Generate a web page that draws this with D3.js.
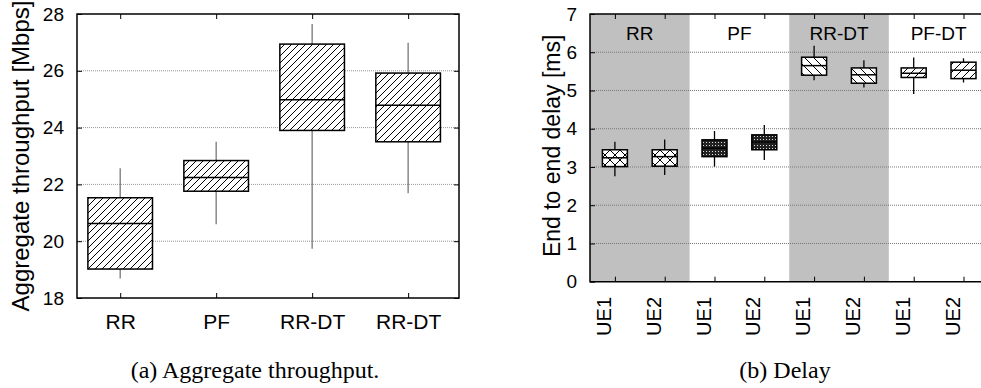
<!DOCTYPE html>
<html lang="en">
<head>
    <meta charset="UTF-8">
    <script src="https://d3js.org/d3.v7.min.js"></script>
    <title>Throughput and delay box plots</title>
    <style>
        html, body {
            margin: 0px;
            padding: 0px;
            background-color: #ffffff;
        }
        svg text {
            font-family: "Liberation Sans", Arial, sans-serif;
            fill: #000;
        }
        svg text.caption {
            font-family: "Liberation Serif", "Times New Roman", serif;
        }
    </style>
</head>
<body>
    <div id="chart"></div>
    <script>

        // (a) aggregate throughput, [whisker low, q1, median, q3, whisker high]
        let throughput_labels = ['RR', 'PF', 'RR-DT', 'RR-DT'];
        let throughput_stats = [
            [18.69, 19.02, 20.62, 21.53, 22.57],
            [20.60, 21.76, 22.24, 22.84, 23.50],
            [19.73, 23.90, 24.98, 26.94, 27.65],
            [21.69, 23.50, 24.79, 25.92, 26.99]
        ];
        let throughput_ticks = [18, 20, 22, 24, 26, 28];

        // (b) delay per scheduler, two UEs each
        let delay_groups = ['RR', 'PF', 'RR-DT', 'PF-DT'];
        let delay_labels = ['UE1', 'UE2', 'UE1', 'UE2', 'UE1', 'UE2', 'UE1', 'UE2'];
        let delay_stats = [
            [2.76, 3.01, 3.24, 3.45, 3.66],
            [2.79, 3.02, 3.27, 3.45, 3.72],
            [3.01, 3.27, 3.49, 3.71, 3.94],
            [3.18, 3.45, 3.65, 3.84, 4.10],
            [5.27, 5.40, 5.65, 5.87, 6.17],
            [5.08, 5.19, 5.41, 5.59, 5.79],
            [4.91, 5.34, 5.45, 5.59, 5.86],
            [5.21, 5.31, 5.53, 5.74, 5.84]
        ];
        let delay_patterns = ['cross', 'cross', 'dots', 'dots', 'back', 'back', 'fwd', 'fwd'];
        let delay_ticks = [0, 1, 2, 3, 4, 5, 6, 7];

        let width = 981, height = 388;
        let svg = d3.select('#chart').append('svg')
            .attr('width', width).attr('height', height);

        // hatch patterns
        let defs = svg.append('defs');
        function hatch(id, size, lines) {
            let p = defs.append('pattern')
                .attr('id', id)
                .attr('patternUnits', 'userSpaceOnUse')
                .attr('width', size).attr('height', size);
            p.append('rect').attr('width', size).attr('height', size).attr('fill', '#fff');
            lines.forEach(l => {
                p.append('line')
                    .attr('x1', l[0]).attr('y1', l[1]).attr('x2', l[2]).attr('y2', l[3])
                    .attr('stroke', '#000').attr('stroke-width', 1);
            });
        }
        hatch('fwd_a', 7, [[0, 7, 7, 0], [-1, 1, 1, -1], [6, 8, 8, 6]]);
        hatch('fwd', 8, [[0, 8, 8, 0], [-1, 1, 1, -1], [7, 9, 9, 7]]);
        hatch('back', 9, [[0, 0, 9, 9], [-1, 8, 1, 10], [8, -1, 10, 1]]);
        hatch('cross', 10, [[0, 10, 10, 0], [0, 0, 10, 10]]);
        let dots = defs.append('pattern')
            .attr('id', 'dots')
            .attr('patternUnits', 'userSpaceOnUse')
            .attr('width', 3).attr('height', 3);
        dots.append('rect').attr('width', 3).attr('height', 3).attr('fill', '#222');
        dots.append('rect').attr('x', 1).attr('y', 1).attr('width', 1).attr('height', 1).attr('fill', '#ddd');

        function style_axis(g, size) {
            g.attr('font-family', null).attr('font-size', null);
            g.select('.domain').remove();
            g.selectAll('text').style('font-size', size + 'px');
            g.selectAll('line').attr('stroke', '#000');
        }

        // ---------- (a) throughput ----------
        let a = svg.append('g');
        let ax = d3.scaleLinear().domain([0.55, 4.53]).range([77, 459]);
        let ay = d3.scaleLinear().domain([18, 28]).range([298, 14]);

        a.selectAll('.grid')
            .data(throughput_ticks.slice(1, -1))
            .join('line')
            .attr('x1', ax.range()[0]).attr('x2', ax.range()[1])
            .attr('y1', d => ay(d)).attr('y2', d => ay(d))
            .attr('stroke', '#999').attr('stroke-width', 1).attr('stroke-dasharray', '1,1');

        let a_left = a.append('g').attr('transform', `translate(${ax.range()[0]},0)`)
            .call(d3.axisLeft(ay).tickValues(throughput_ticks).tickSize(-5).tickPadding(13));
        let a_right = a.append('g').attr('transform', `translate(${ax.range()[1]},0)`)
            .call(d3.axisRight(ay).tickValues(throughput_ticks).tickSize(-5).tickFormat(''));
        let a_bottom = a.append('g').attr('transform', `translate(0,${ay.range()[0]})`)
            .call(d3.axisBottom(ax).tickValues([1, 2, 3, 4]).tickSize(-5).tickPadding(16)
                .tickFormat((d, i) => throughput_labels[i]));
        let a_top = a.append('g').attr('transform', `translate(0,${ay.range()[1]})`)
            .call(d3.axisTop(ax).tickValues([1, 2, 3, 4]).tickSize(-5).tickFormat(''));
        style_axis(a_left, 19);
        style_axis(a_right, 19);
        style_axis(a_bottom, 21);
        style_axis(a_top, 19);

        let bw = 64.6;
        let a_boxes = a.selectAll('.box').data(throughput_stats).join('g');
        a_boxes.append('line')
            .attr('x1', (d, i) => ax(i + 1)).attr('x2', (d, i) => ax(i + 1))
            .attr('y1', d => ay(d[0])).attr('y2', d => ay(d[4]))
            .attr('stroke', '#777').attr('stroke-width', 1.3);
        a_boxes.append('rect')
            .attr('x', (d, i) => ax(i + 1) - bw / 2).attr('width', bw)
            .attr('y', d => ay(d[3])).attr('height', d => ay(d[1]) - ay(d[3]))
            .attr('fill', 'url(#fwd_a)').attr('stroke', '#000').attr('stroke-width', 1.5);
        a_boxes.append('line')
            .attr('x1', (d, i) => ax(i + 1) - bw / 2).attr('x2', (d, i) => ax(i + 1) + bw / 2)
            .attr('y1', d => ay(d[2])).attr('y2', d => ay(d[2]))
            .attr('stroke', '#000').attr('stroke-width', 1.5);

        a.append('rect')
            .attr('x', ax.range()[0]).attr('y', ay.range()[1])
            .attr('width', ax.range()[1] - ax.range()[0]).attr('height', ay.range()[0] - ay.range()[1])
            .attr('fill', 'none').attr('stroke', '#000').attr('stroke-width', 1.5);

        a.append('text')
            .attr('transform', `translate(29,${(ay.range()[0] + ay.range()[1]) / 2}) rotate(-90)`)
            .attr('text-anchor', 'middle')
            .style('font-size', '24px')
            .text('Aggregate throughput [Mbps]');

        // ---------- (b) delay ----------
        let b = svg.append('g');
        let bx = d3.scaleLinear().domain([0.5, 8.5]).range([590, 988.4]);
        let by = d3.scaleLinear().domain([0, 7]).range([281.7, 14]);

        b.selectAll('.band')
            .data(delay_groups)
            .join('rect')
            .attr('x', (d, i) => bx(i * 2 + 0.5)).attr('width', bx(2.5) - bx(0.5))
            .attr('y', by(7)).attr('height', by(0) - by(7))
            .attr('fill', (d, i) => i % 2 === 0 ? '#c0c0c0' : 'none');

        b.selectAll('.grid')
            .data(delay_ticks.slice(1, -1))
            .join('line')
            .attr('x1', bx.range()[0]).attr('x2', bx.range()[1])
            .attr('y1', d => by(d)).attr('y2', d => by(d))
            .attr('stroke', '#777').attr('stroke-width', 1).attr('stroke-dasharray', '1,1');

        b.selectAll('.group')
            .data(delay_groups)
            .join('text')
            .attr('x', (d, i) => bx(i * 2 + 1.5)).attr('y', 40)
            .attr('text-anchor', 'middle')
            .style('font-size', '19px')
            .text(d => d);

        let b_left = b.append('g').attr('transform', `translate(${bx.range()[0]},0)`)
            .call(d3.axisLeft(by).tickValues(delay_ticks).tickFormat(d3.format('d'))
                .tickSize(-5).tickPadding(13));
        let b_bottom = b.append('g').attr('transform', `translate(0,${by.range()[0]})`)
            .call(d3.axisBottom(bx).tickValues(d3.range(1, 9)).tickSize(-5).tickFormat(''));
        let b_top = b.append('g').attr('transform', `translate(0,${by.range()[1]})`)
            .call(d3.axisTop(bx).tickValues(d3.range(1, 9)).tickSize(-5).tickFormat(''));
        style_axis(b_left, 19);
        style_axis(b_bottom, 19);
        style_axis(b_top, 19);

        b.selectAll('.ue')
            .data(delay_labels)
            .join('text')
            .attr('transform', (d, i) => `translate(${bx(i + 1) - 4},297) rotate(-90)`)
            .attr('text-anchor', 'end')
            .style('font-size', '20px')
            .text(d => d);

        let cw = 25;
        let b_boxes = b.selectAll('.box').data(delay_stats).join('g');
        b_boxes.append('line')
            .attr('x1', (d, i) => bx(i + 1)).attr('x2', (d, i) => bx(i + 1))
            .attr('y1', d => by(d[0])).attr('y2', d => by(d[4]))
            .attr('stroke', '#000').attr('stroke-width', 1.3);
        b_boxes.append('rect')
            .attr('x', (d, i) => bx(i + 1) - cw / 2).attr('width', cw)
            .attr('y', d => by(d[3])).attr('height', d => by(d[1]) - by(d[3]))
            .attr('fill', (d, i) => `url(#${delay_patterns[i]})`)
            .attr('stroke', '#000').attr('stroke-width', 1.5);
        b_boxes.append('line')
            .attr('x1', (d, i) => bx(i + 1) - cw / 2).attr('x2', (d, i) => bx(i + 1) + cw / 2)
            .attr('y1', d => by(d[2])).attr('y2', d => by(d[2]))
            .attr('stroke', '#000').attr('stroke-width', 1.5);

        b.append('path')
            .attr('d', `M${bx.range()[1]},${by.range()[1]}H${bx.range()[0]}V${by.range()[0]}H${bx.range()[1]}`)
            .attr('fill', 'none').attr('stroke', '#000').attr('stroke-width', 1.5);

        b.append('text')
            .attr('transform', `translate(560,${(by.range()[0] + by.range()[1]) / 2 - 2}) rotate(-90)`)
            .attr('text-anchor', 'middle')
            .style('font-size', '23px')
            .text('End to end delay [ms]');

        // captions
        svg.append('text').attr('class', 'caption')
            .attr('x', 255).attr('y', 378).attr('text-anchor', 'middle')
            .style('font-size', '24px')
            .text('(a)  Aggregate throughput.');
        svg.append('text').attr('class', 'caption')
            .attr('x', 785).attr('y', 378).attr('text-anchor', 'middle')
            .style('font-size', '24px')
            .text('(b)  Delay');

    </script>
</body>
</html>
